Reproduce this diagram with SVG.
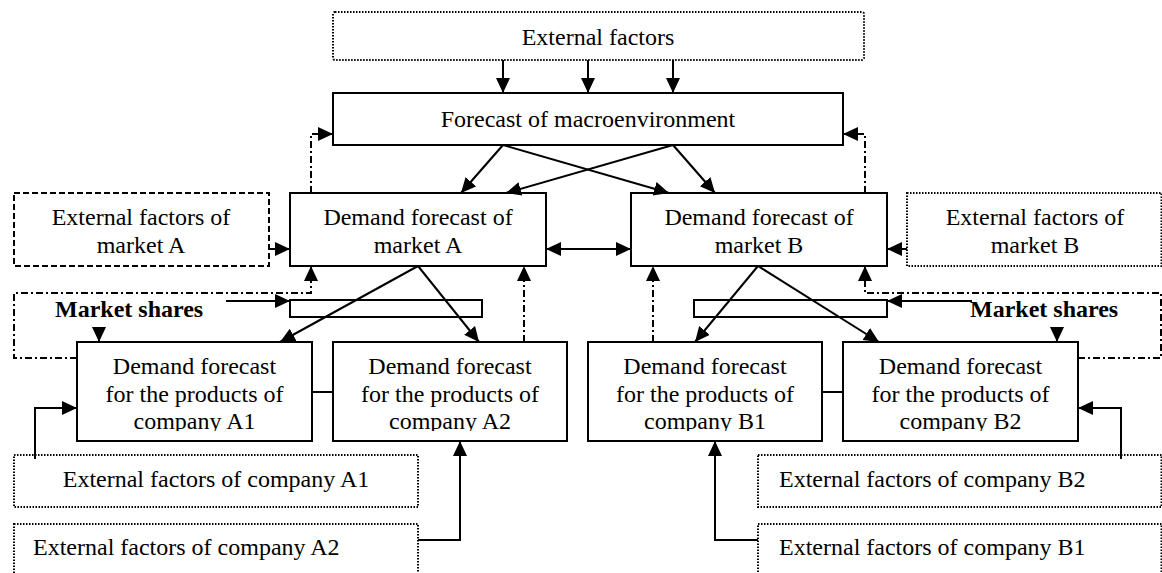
<svg xmlns="http://www.w3.org/2000/svg" width="1162" height="573" viewBox="0 0 1162 573">
<style>
  text { font-family: "Liberation Serif", "Times New Roman", serif; font-size: 24px; fill: #000; }
  .c { text-anchor: middle; }
  .b { font-weight: bold; }
  .box { fill: #fff; stroke: #000; stroke-width: 2; }
  .bar { fill: none; stroke: #000; stroke-width: 2; }
  .dot { fill: #fff; stroke: #000; stroke-width: 2; stroke-dasharray: 1.5 1.5; }
  .dash { fill: #fff; stroke: #000; stroke-width: 2; stroke-dasharray: 6 3; }
  .ln { fill: none; stroke: #000; stroke-width: 2; }
  .dd { fill: none; stroke: #000; stroke-width: 2; stroke-dasharray: 7 3 2 3; }
</style>
<defs>
  <marker id="ah" markerUnits="userSpaceOnUse" markerWidth="16" markerHeight="16" refX="15" refY="7" orient="auto-start-reverse">
    <path d="M0,0 L15,7 L0,14 z" fill="#000"/>
  </marker>
  <clipPath id="clipA1"><rect x="77" y="342" width="235" height="89"/></clipPath>
  <clipPath id="clipA2"><rect x="333" y="342" width="234" height="89"/></clipPath>
  <clipPath id="clipB1"><rect x="588" y="342" width="234" height="89"/></clipPath>
  <clipPath id="clipB2"><rect x="843" y="342" width="235" height="89"/></clipPath>
</defs>

<g id="external-factors">
  <rect class="dot" x="333" y="12" width="531" height="48" rx="2"/>
  <text class="c" x="598" y="45">External factors</text>
</g>

<g id="macro">
  <rect class="box" x="333" y="93" width="510" height="52"/>
  <text class="c" x="588" y="127">Forecast of macroenvironment</text>
</g>

<g id="ext-market-a">
  <rect class="dash" x="14" y="193" width="255" height="73"/>
  <text class="c" x="141" y="225">External factors of</text>
  <text class="c" x="141" y="253">market A</text>
</g>

<g id="market-a">
  <rect class="box" x="290" y="193" width="256" height="73"/>
  <text class="c" x="418" y="225">Demand forecast of</text>
  <text class="c" x="418" y="253">market A</text>
</g>

<g id="market-b">
  <rect class="box" x="631" y="193" width="256" height="73"/>
  <text class="c" x="759" y="225">Demand forecast of</text>
  <text class="c" x="759" y="253">market B</text>
</g>

<g id="ext-market-b">
  <rect class="dot" x="907" y="193" width="254.5" height="73"/>
  <text class="c" x="1035" y="225">External factors of</text>
  <text class="c" x="1035" y="253">market B</text>
</g>

<g id="shares-a">
  <rect class="bar" x="290" y="300" width="192" height="17"/>
  <text class="b" x="55" y="317">Market shares</text>
</g>

<g id="shares-b">
  <rect class="bar" x="694" y="300" width="193" height="17"/>
  <text class="b" x="970" y="317">Market shares</text>
</g>

<g id="company-a1">
  <rect class="box" x="77" y="342" width="235" height="99"/>
  <g clip-path="url(#clipA1)">
    <text class="c" x="194.5" y="374">Demand forecast</text>
    <text class="c" x="194.5" y="402">for the products of</text>
    <text class="c" x="194.5" y="429">company A1</text>
  </g>
</g>

<g id="company-a2">
  <rect class="box" x="333" y="342" width="234" height="99"/>
  <g clip-path="url(#clipA2)">
    <text class="c" x="450" y="374">Demand forecast</text>
    <text class="c" x="450" y="402">for the products of</text>
    <text class="c" x="450" y="429">company A2</text>
  </g>
</g>

<g id="company-b1">
  <rect class="box" x="588" y="342" width="234" height="99"/>
  <g clip-path="url(#clipB1)">
    <text class="c" x="705" y="374">Demand forecast</text>
    <text class="c" x="705" y="402">for the products of</text>
    <text class="c" x="705" y="429">company B1</text>
  </g>
</g>

<g id="company-b2">
  <rect class="box" x="843" y="342" width="235" height="99"/>
  <g clip-path="url(#clipB2)">
    <text class="c" x="960.5" y="374">Demand forecast</text>
    <text class="c" x="960.5" y="402">for the products of</text>
    <text class="c" x="960.5" y="429">company B2</text>
  </g>
</g>

<g id="ext-company-a1">
  <rect class="dot" x="14" y="455" width="404" height="52"/>
  <text class="c" x="216" y="487">External factors of company A1</text>
</g>

<g id="ext-company-a2">
  <rect class="dot" x="14" y="524" width="404" height="60"/>
  <text x="33" y="555">External factors of company A2</text>
</g>

<g id="ext-company-b2">
  <rect class="dot" x="758" y="455" width="403.5" height="52"/>
  <text x="779" y="487">External factors of company B2</text>
</g>

<g id="ext-company-b1">
  <rect class="dot" x="758" y="524" width="403.5" height="60"/>
  <text x="779" y="555">External factors of company B1</text>
</g>

<g id="connectors">
  <line class="ln" x1="503" y1="60" x2="503" y2="93" marker-end="url(#ah)"/>
  <line class="ln" x1="588" y1="60" x2="588" y2="93" marker-end="url(#ah)"/>
  <line class="ln" x1="673" y1="60" x2="673" y2="93" marker-end="url(#ah)"/>
  <line class="ln" x1="503" y1="145" x2="461" y2="193" marker-end="url(#ah)"/>
  <line class="ln" x1="503" y1="145" x2="669" y2="193" marker-end="url(#ah)"/>
  <line class="ln" x1="673" y1="145" x2="506" y2="193" marker-end="url(#ah)"/>
  <line class="ln" x1="673" y1="145" x2="715" y2="193" marker-end="url(#ah)"/>
  <path class="dd" d="M311,193 L311,134 L333,134" marker-end="url(#ah)"/>
  <path class="dd" d="M865,193 L865,134 L843,134" marker-end="url(#ah)"/>
  <line class="ln" x1="546" y1="249" x2="631" y2="249" marker-start="url(#ah)" marker-end="url(#ah)"/>
  <line class="ln" x1="269" y1="249" x2="290" y2="249" marker-end="url(#ah)"/>
  <line class="ln" x1="907" y1="249" x2="887" y2="249" marker-end="url(#ah)"/>
  <path class="dd" d="M77,358 L14,358 L14,293 L311,293 L311,266" marker-end="url(#ah)"/>
  <path class="dd" d="M1078,358 L1161,358 L1161,293 L865,293 L865,266" marker-end="url(#ah)"/>
  <line class="ln" x1="226" y1="301" x2="290" y2="301" marker-end="url(#ah)"/>
  <line class="ln" x1="972" y1="301" x2="887" y2="301" marker-end="url(#ah)"/>
  <line class="ln" x1="99" y1="327" x2="99" y2="342" marker-end="url(#ah)"/>
  <line class="ln" x1="1057" y1="327" x2="1057" y2="342" marker-end="url(#ah)"/>
  <line class="ln" x1="418" y1="266" x2="280" y2="342" marker-end="url(#ah)"/>
  <line class="ln" x1="418" y1="266" x2="479" y2="342" marker-end="url(#ah)"/>
  <line class="ln" x1="758" y1="266" x2="695" y2="342" marker-end="url(#ah)"/>
  <line class="ln" x1="758" y1="266" x2="879" y2="342" marker-end="url(#ah)"/>
  <line class="dd" x1="524" y1="342" x2="524" y2="266" marker-end="url(#ah)"/>
  <line class="dd" x1="653" y1="342" x2="653" y2="266" marker-end="url(#ah)"/>
  <line class="ln" x1="312" y1="392" x2="333" y2="392"/>
  <line class="ln" x1="822" y1="392" x2="843" y2="392"/>
  <path class="ln" d="M35,459 L35,408 L77,408" marker-end="url(#ah)"/>
  <path class="ln" d="M1121,459 L1121,408 L1078,408" marker-end="url(#ah)"/>
  <path class="ln" d="M418,540 L460,540 L460,441" marker-end="url(#ah)"/>
  <path class="ln" d="M758,540 L715,540 L715,441" marker-end="url(#ah)"/>
</g>
</svg>
